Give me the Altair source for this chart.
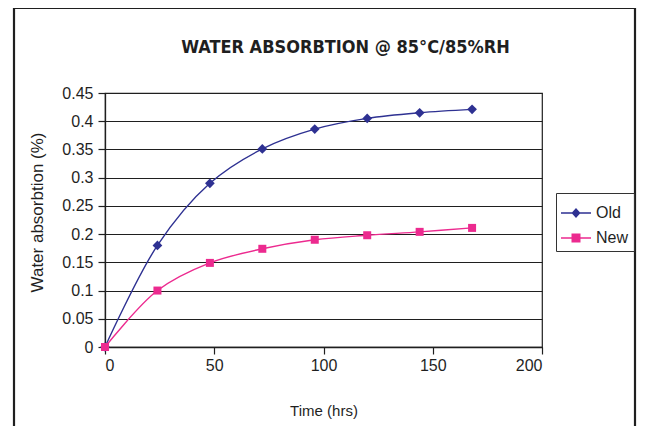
import altair as alt
import pandas as pd

# ---- data ----
hours = [0, 24, 48, 72, 96, 120, 144, 168]
old_vals = [0.0, 0.18, 0.29, 0.351, 0.386, 0.405, 0.415, 0.421]
new_vals = [0.0, 0.10, 0.149, 0.174, 0.19, 0.198, 0.204, 0.211]
series_names = ["Old", "New"]
series_colors = ["#2E3192", "#EC2A8F"]
x_tick_vals = [0, 50, 100, 150, 200]
y_tick_vals = [0, 0.05, 0.1, 0.15, 0.2, 0.25, 0.3, 0.35, 0.4, 0.45]
title_text = "WATER ABSORBTION @ 85°C/85%RH"
x_title = "Time (hrs)"
y_title = "Water absorbtion (%)"

rows = []
for h, v in zip(hours, old_vals):
    rows.append({"time": h, "value": v, "series": "Old"})
for h, v in zip(hours, new_vals):
    rows.append({"time": h, "value": v, "series": "New"})
df = pd.DataFrame(rows)

INK = "#1f1f1f"
# legend glyphs: a thin bar (line) plus the marker, all filled
P_OLD = "M-1,-0.045H1V0.045H-1ZM0,-0.34L0.3,0L0,0.34L-0.3,0Z"
P_NEW = "M-1,-0.045H1V0.045H-1ZM-0.3,-0.3H0.3V0.3H-0.3Z"

x_enc = alt.X("time:Q", scale=alt.Scale(domain=[0, 200], nice=False),
              axis=alt.Axis(values=x_tick_vals, title=x_title, grid=False,
                            tickSize=7, labelPadding=3, titleY=56,
                            titleBaseline="top"))
y_enc = alt.Y("value:Q", scale=alt.Scale(domain=[0, 0.45], nice=False),
              axis=alt.Axis(values=y_tick_vals, format=".2~f", title=y_title,
                            grid=True, tickSize=7, labelPadding=5,
                            titleX=-68, titleY=119, titleFontSize=17,
                            titleBaseline="middle"))
base = alt.Chart(df)

layers = []
for name, col in zip(series_names, series_colors):
    sub = base.transform_filter(alt.datum.series == name)
    layers.append(sub.mark_line(interpolate="catmull-rom", strokeWidth=1.4, color=col)
                  .encode(x=x_enc, y=y_enc))
point_layers = []
for name, col, shp, sz in zip(series_names, series_colors, ["diamond", "square"], [95, 64]):
    sub = base.transform_filter(alt.datum.series == name)
    point_layers.append(sub.mark_point(filled=True, shape=shp, size=sz, opacity=1, color=col)
                        .encode(x=x_enc, y=y_enc))

legend = alt.Legend(
    title=None, orient="none", legendX=451, legendY=100,
    labelFontSize=16, labelFont="Liberation Sans", labelColor=INK,
    symbolSize=900, strokeColor="#333333", padding=5, rowPadding=2,
    labelOffset=5, symbolStrokeWidth=0, symbolOpacity=1,
)
legend_layer = base.mark_point(filled=True, opacity=0).encode(
    x=x_enc, y=y_enc,
    color=alt.Color("series:N", scale=alt.Scale(domain=series_names, range=series_colors),
                    legend=legend),
    shape=alt.Shape("series:N", scale=alt.Scale(domain=series_names, range=[P_OLD, P_NEW]),
                    legend=legend),
)

one = alt.Chart(pd.DataFrame({"f": [0]}))
frame = one.mark_rect(fill="transparent", stroke=INK, strokeWidth=2.2).encode(
    x=alt.value(-91), x2=alt.value(530), y=alt.value(-85), y2=alt.value(345)
)
title_mark = one.mark_text(
    font="Liberation Sans Narrow, DejaVu Sans Condensed, Liberation Sans",
    fontSize=18, fontWeight="bold", align="center", baseline="alphabetic", color=INK
).encode(x=alt.value(240.5), y=alt.value(-40.5), text=alt.value(title_text))

chart = alt.layer(frame, title_mark, *layers, legend_layer, *point_layers).properties(
    width=437, height=254,
    autosize=alt.AutoSizeParams(type="none"),
    padding={"left": 97, "top": 85, "right": 95, "bottom": 79},
).configure(font="Liberation Sans").configure_view(
    stroke=INK, strokeWidth=1.2
).configure_axis(
    labelFontSize=16, labelColor=INK, titleFontSize=15, titleFontWeight="normal",
    titleColor=INK, domainColor=INK, domainWidth=1.3, tickColor=INK, tickWidth=1.2,
    gridColor=INK, gridWidth=1.2, gridOpacity=1,
)

chart.save("out.html", embed_options={"renderer": "svg", "actions": False})
